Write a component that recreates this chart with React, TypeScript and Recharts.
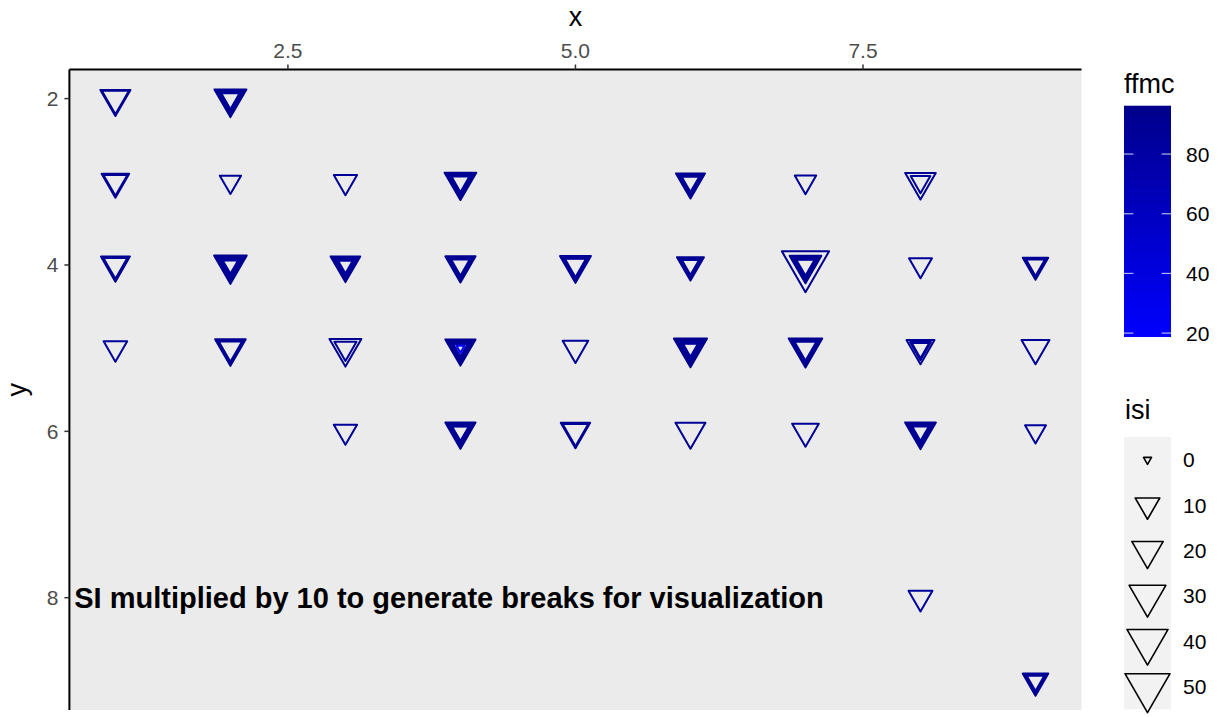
import React from "react";
import { ScatterChart, Scatter, XAxis, YAxis, ReferenceArea, ReferenceDot, Legend } from "recharts";

const FONT = "'Liberation Sans', Arial, Helvetica, sans-serif";

// grid cells (X, Y) of the forest fire records, with the isi / ffmc of every record in the cell
const cellX = [1, 2, 1, 2, 3, 4, 6, 7, 8, 1, 2, 3, 4, 5, 6, 7, 8, 9, 1, 2, 3, 4, 5, 6, 7, 8, 9, 3, 4, 5, 6, 7, 8, 9, 8, 9];
const cellY = [2, 2, 3, 3, 3, 3, 3, 3, 3, 4, 4, 4, 4, 4, 4, 4, 4, 4, 5, 5, 5, 5, 5, 5, 5, 5, 5, 6, 6, 6, 6, 6, 6, 6, 8, 9];
const cellIsi = [
  [17.8, 13.4],
  [21.0, 14.5, 9.3, 5.2, 4.0],
  [14.0, 9.3],
  [6.4],
  [8.5],
  [20.4, 14.5, 9.3, 5.2, 3.6],
  [16.0, 10.5, 6.1, 3.4],
  [6.6],
  [18.6, 5.0],
  [16.0, 9.3],
  [22.2, 16.0, 10.5, 6.1, 2.9, 2.0],
  [17.1, 11.8, 7.1, 3.6, 1.6],
  [18.0, 11.8, 7.1, 4.1],
  [19.2, 13.1, 8.2, 6.4],
  [13.1, 8.2, 4.4, 3.1],
  [56.1, 20.6, 14.5, 9.3, 5.2, 4.0],
  [8.2],
  [11.1, 7.1, 4.4],
  [8.9],
  [18.7, 13.1, 8.6],
  [20.9, 7.3],
  [18.0, 11.8, 7.1, 3.6, 1.5, 0.0],
  [11.3],
  [23.0, 16.0, 10.5, 6.1, 2.9, 1.8],
  [23.8, 17.6, 11.8, 7.1],
  [14.6, 6.1, 3.3],
  [14.6],
  [8.5],
  [18.0, 11.8, 7.1, 3.6, 2.9],
  [16.7, 11.4],
  [17.6],
  [12.7],
  [18.9, 13.1, 8.2, 4.4, 2.7],
  [6.1],
  [9.3],
  [11.3, 6.6, 3.4],
];
const cellFfmc = [
  [92.1, 90.6],
  [92.5, 91.0, 93.4, 90.2, 88.9],
  [91.4, 89.7],
  [86.2],
  [87.6],
  [93.1, 92.0, 91.3, 90.0, 88.2],
  [92.4, 91.6, 90.1, 87.9],
  [88.0],
  [90.9, 84.6],
  [92.9, 90.4],
  [93.5, 92.1, 91.0, 89.4, 87.3, 85.0],
  [92.6, 91.5, 90.3, 88.7, 84.9],
  [92.7, 91.9, 90.6, 88.1],
  [91.0, 89.6, 88.3, 86.4],
  [92.2, 91.1, 89.2, 87.1],
  [92.5, 93.0, 91.8, 90.7, 89.3, 87.6],
  [86.8],
  [91.7, 90.1, 88.5],
  [85.8],
  [92.8, 91.4, 89.9],
  [91.2, 88.4],
  [93.3, 92.0, 90.9, 89.5, 86.1, 18.7],
  [87.4],
  [96.2, 93.7, 92.4, 91.2, 89.8, 86.5],
  [94.3, 92.9, 91.5, 90.0],
  [90.2, 89.0, 87.2],
  [86.9],
  [87.8],
  [93.0, 92.2, 91.0, 89.1, 87.7],
  [91.3, 89.8],
  [88.6],
  [87.0],
  [93.6, 92.3, 91.1, 89.6, 86.8],
  [85.4],
  [84.2],
  [92.0, 90.5, 88.3],
];

const xTicks = [2.5, 5.0, 7.5];
const yTicks = [2, 4, 6, 8];
const ffmcBreaks = [20, 40, 60, 80];
const isiBreaks = [0, 10, 20, 30, 40, 50];
const NOTE = "SI multiplied by 10 to generate breaks for visualization";

const points = cellX.flatMap((x, i) =>
  cellIsi[i].map((isi, j) => ({ x, y: cellY[i], isi, ffmc: cellFfmc[i][j] }))
);

const isiMax = Math.max(...points.map((p) => p.isi));
const ffmcMin = Math.min(...points.map((p) => p.ffmc));
const ffmcMax = Math.max(...points.map((p) => p.ffmc));

const LOW = [0, 0, 255]; // blue
const HIGH = [0, 0, 139]; // darkblue
const colour = (v: number) => {
  const t = (v - ffmcMin) / (ffmcMax - ffmcMin);
  const c = LOW.map((l, k) => Math.round(l + (HIGH[k] - l) * t));
  return `rgb(${c.join(",")})`;
};

// outer width in px, area scale like ggplot's scale_size (range 1..6)
const triWidth = (isi: number) => 11 + 39.2 * Math.sqrt(Math.max(isi, 0) / isiMax);

// pch 6: downward triangle centred on its centroid
const triPath = (cx: number, cy: number, w: number) => {
  const c = w - 3;
  const r = c / Math.sqrt(3);
  return `M${cx - c / 2},${cy - r / 2}L${cx + c / 2},${cy - r / 2}L${cx},${cy + r}Z`;
};

const Triangle = (props: any) => {
  const { cx, cy, payload } = props;
  if (cx == null || cy == null) return null;
  return (
    <path
      d={triPath(cx, cy, triWidth(payload.isi))}
      fill="none"
      stroke={colour(payload.ffmc)}
      strokeWidth={2}
      strokeLinejoin="round"
    />
  );
};

const tickStyle = { fontSize: 21, fontFamily: FONT, fill: "#4D4D4D" };

const XTitle = (props: any) => {
  const vb = props.viewBox;
  return (
    <text x={vb.x + vb.width / 2} y={26} textAnchor="middle" fontSize={27} fontFamily={FONT} fill="#000">
      x
    </text>
  );
};

const YTitle = (props: any) => {
  const vb = props.viewBox;
  const cy = vb.y + vb.height / 2;
  return (
    <text
      x={26}
      y={cy}
      textAnchor="middle"
      fontSize={27}
      fontFamily={FONT}
      fill="#000"
      transform={`rotate(-90, 26, ${cy})`}
    >
      y
    </text>
  );
};

const Note = (props: any) => {
  const vb = props.viewBox;
  return (
    <text
      x={vb.x + vb.width / 2}
      y={vb.y + vb.height / 2 + 10}
      textAnchor="middle"
      fontSize={29}
      fontWeight="bold"
      fontFamily={FONT}
      fill="#000"
    >
      {NOTE}
    </text>
  );
};

const BAR_TOP = 105.7;
const BAR_H = 231.3;
const KEY_TOP = 437;
const KEY_STEP = 45.4;

const Legends = () => (
  <svg width={118} height={717} style={{ display: "block" }} fontFamily={FONT}>
    <defs>
      <linearGradient id="ffmcGrad" x1="0" y1="1" x2="0" y2="0">
        <stop offset="0" stopColor={colour(ffmcMin)} />
        <stop offset="1" stopColor={colour(ffmcMax)} />
      </linearGradient>
    </defs>
    <text x={24} y={93} fontSize={27} fill="#000">ffmc</text>
    <rect x={24} y={BAR_TOP} width={47} height={BAR_H} fill="url(#ffmcGrad)" />
    {ffmcBreaks.map((v) => {
      const y = BAR_TOP + BAR_H - ((v - ffmcMin) / (ffmcMax - ffmcMin)) * BAR_H;
      return (
        <g key={v}>
          <line x1={24} x2={33.4} y1={y} y2={y} stroke="#fff" strokeOpacity={0.7} strokeWidth={1.2} />
          <line x1={61.6} x2={71} y1={y} y2={y} stroke="#fff" strokeOpacity={0.7} strokeWidth={1.2} />
          <text x={86} y={y} dy="0.36em" fontSize={21} fill="#000">{v}</text>
        </g>
      );
    })}
    <text x={25} y={419} fontSize={27} fill="#000">isi</text>
    <rect x={24} y={KEY_TOP} width={47} height={KEY_STEP * isiBreaks.length} fill="#F2F2F2" />
    {isiBreaks.map((v, k) => {
      const cy = KEY_TOP + KEY_STEP * (k + 0.5);
      return (
        <g key={v}>
          <path d={triPath(47.5, cy, triWidth(v))} fill="none" stroke="#000" strokeWidth={1.6} strokeLinejoin="round" />
          <text x={83} y={cy} dy="0.36em" fontSize={21} fill="#000">{v}</text>
        </g>
      );
    })}
  </svg>
);

export default function App() {
  return (
    <div style={{ position: "absolute", left: 0, top: 0, width: 1218, height: 717, background: "#fff" }}>
      <ScatterChart width={1218} height={717} margin={{ top: 0, right: 136.5, bottom: 7, left: 0 }}>
        <XAxis
          type="number"
          dataKey="x"
          orientation="top"
          height={69.5}
          domain={[0.6, 9.4]}
          ticks={xTicks}
          tickFormatter={(v: number) => v.toFixed(1)}
          allowDataOverflow
          tick={tickStyle}
          tickSize={5}
          tickMargin={7}
          tickLine={{ stroke: "#333333", strokeWidth: 1.5 }}
          axisLine={{ stroke: "#000", strokeWidth: 2 }}
          label={<XTitle />}
        />
        <YAxis
          type="number"
          dataKey="y"
          width={69.4}
          reversed
          domain={[1.65, 9.35]}
          ticks={yTicks}
          allowDataOverflow
          tick={tickStyle}
          tickSize={5}
          tickMargin={6}
          tickLine={{ stroke: "#333333", strokeWidth: 1.5 }}
          axisLine={{ stroke: "#000", strokeWidth: 2 }}
          label={<YTitle />}
        />
        <ReferenceArea x1={0.6} x2={9.4} y1={1.65} y2={9.35} fill="#EBEBEB" fillOpacity={1} stroke="none" />
        <Scatter data={points} shape={<Triangle />} isAnimationActive={false} />
        <ReferenceDot x={3.9} y={8} r={0} fill="none" stroke="none" label={<Note />} />
        <Legend
          layout="vertical"
          align="center"
          verticalAlign="middle"
          content={() => <Legends />}
          wrapperStyle={{ left: 1100, top: 0, width: 118, height: 717 }}
        />
      </ScatterChart>
    </div>
  );
}
